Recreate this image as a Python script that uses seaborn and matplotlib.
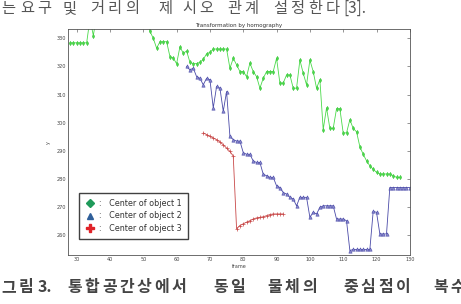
import matplotlib
matplotlib.use('Agg')
import matplotlib.pyplot as plt
import seaborn as sns
import pandas as pd
from matplotlib.lines import Line2D

# object 1 (green) - values above 333 run off the top of the axes
frames1 = list(range(28, 128))
y1 = [328.4, 328.4, 328.4, 328.4, 328.4, 328.4, 337, 331,
      338, 338, 338, 338, 338, 338, 338, 338, 338, 338, 338, 338, 338, 338, 338, 338,
      332.5, 330, 326.5, 328.8, 328.8, 328.8, 323.5, 323, 321, 327,
      324.7, 325.5, 321.5, 321, 321, 321.5, 322.5, 324.5, 325, 326.2,
      326.2, 326.2, 326.2, 326.2, 319.4, 322.9, 320.6, 318.2, 318.2, 316.4,
      321.2, 318.2, 316.4, 312.3, 315.8, 318.2, 318.2, 318.2, 322.9, 314.1,
      314.1, 317, 317, 312.3, 312.3, 322.3, 317.6, 313.5, 322.3, 318.2,
      312.3, 315.3, 297.6, 305.3, 298, 298, 305, 305, 296.4, 296.4,
      301.1, 298, 296.8, 291.5, 288.8, 286.5, 284.7, 283.5, 282.4, 281.8,
      281.8, 281.8, 281.8, 281.2, 280.6, 280.6]

# object 2 (blue)
frames2 = list(range(63, 131))
y2 = [320, 318.8, 319.4, 316.4, 315.8, 313.5, 315.8, 315.3, 305.3, 312.9,
      312.3, 304.1, 311.1, 295.2, 294, 293.5, 293.5, 289.4, 288.8, 288.8,
      286.4, 285.9, 285.9, 281.7, 281.2, 280.6, 280.6, 277.6, 277, 275.2,
      274.7, 273.5, 272.9, 270.5, 273.5, 273.5, 273.5, 266.4, 268.2, 267.6,
      269.9, 270.5, 270.5, 270.5, 270.5, 265.8, 265.8, 265.8, 265.2, 254.6,
      255, 255, 255, 255, 255, 255, 268.5, 268.2, 260.5, 260.5,
      260.5, 277, 277, 277, 277, 277, 277, 277]

# object 3 (red)
frames3 = list(range(68, 93))
y3 = [296.4, 295.8, 295.2, 294.6, 294, 293.2, 292.2, 291, 289.8, 288.2,
      262.3, 263.5, 264.1, 264.7, 265.2, 265.8, 266.2, 266.4, 266.6, 267,
      267.4, 267.6, 267.6, 267.6, 267.6]

labels = ['Center of object 1', 'Center of object 2', 'Center of object 3']
xticks = list(range(30, 131, 10))
yticks = list(range(260, 331, 10))

# surrounding page text (word, left x in px)
top_words = [('는', 1), ('요구', 20), ('및', 63), ('거리의', 90), ('제', 158),
             ('시오', 182), ('관계', 227), ('설정한다', 273)]
top_tail = ('[3].', 343)
bottom_words = [('그림', 1), ('3.', 38), ('통합공간상에서', 67), ('동일', 213),
                ('물체의', 267), ('중심점이', 343), ('복수의', 433)]

sns.set_style('white')

fig = plt.figure(figsize=(4.61, 3.04), dpi=100)
ax = fig.add_axes([0.1475, 0.161, 0.7415, 0.7425])

df1 = pd.DataFrame({'frame': frames1, 'y': y1})
df2 = pd.DataFrame({'frame': frames2, 'y': y2})
df3 = pd.DataFrame({'frame': frames3, 'y': y3})

sns.lineplot(data=df1, x='frame', y='y', ax=ax, color='#4ada4a', lw=0.6,
             marker='d', markersize=2.2, markeredgewidth=0.3, markeredgecolor='#38c038')
sns.lineplot(data=df2, x='frame', y='y', ax=ax, color='#4a4aa8', lw=0.6,
             marker='^', markersize=2.4, markeredgewidth=0.4, markerfacecolor='#8888cc',
             markeredgecolor='#4a4aa8')
sns.lineplot(data=df3, x='frame', y='y', ax=ax, color='#c84848', lw=0.6,
             marker='+', markersize=2.6, markeredgewidth=0.5, markeredgecolor='#c84848')

ax.set_xlim(27.4, 130)
ax.set_ylim(253, 333.2)
ax.set_xticks(xticks)
ax.set_yticks(yticks)
ax.tick_params(direction='in', length=2.2, width=0.4, labelsize=3.6,
               top=True, right=True, colors='#444444', pad=1.5)
for sp in ax.spines.values():
    sp.set_color('#555555')
    sp.set_linewidth(0.6)
ax.set_title('Transformation by homography', fontsize=4, color='#333333', pad=2)
ax.set_xlabel('frame', fontsize=3.5, color='#444444', labelpad=1)
ax.set_ylabel('y', fontsize=3.5, color='#444444', labelpad=4)

handles = [
    Line2D([], [], ls='none', marker='D', markersize=3.8, color='#1f9a5a'),
    Line2D([], [], ls='none', marker='^', markersize=4.5, color='#2f5f9a'),
    Line2D([], [], ls='none', marker='P', markersize=6, color='#e02228'),
]
leg = ax.legend(handles, [':   ' + s for s in labels], loc='lower left',
                bbox_to_anchor=(0.033, 0.071), borderaxespad=0, fontsize=5.8,
                frameon=True, fancybox=False, handlelength=1.1, handletextpad=0.6,
                labelspacing=0.45, borderpad=0.75, labelcolor='#333333')
leg.get_frame().set_edgecolor('#111111')
leg.get_frame().set_linewidth(1.0)

kr = ['Noto Sans CJK KR', 'DejaVu Sans']


def put_word(word, x0, ybase, pitch, **kw):
    # draw one character at a time to mimic the justified page spacing
    for i, ch in enumerate(word):
        fig.text((x0 + i * pitch) / 461, 1 - ybase / 304, ch, family=kr,
                 ha='left', va='baseline', **kw)


for w, x in top_words:
    put_word(w, x, 13, 17.5, fontsize=11, color='#555555')
fig.text(top_tail[1] / 461, 1 - 13 / 304, top_tail[0], family=kr, fontsize=11,
         color='#555555', ha='left', va='baseline')

for w, x in bottom_words:
    if w[0].isdigit():
        fig.text(x / 461, 1 - 292 / 304, w, family=kr, fontsize=11.5,
                 color='#444444', fontweight='bold', ha='left', va='baseline')
    else:
        put_word(w, x, 292, 17.5, fontsize=11.5, color='#444444', fontweight='bold')

fig.savefig('out.png', dpi=100)
